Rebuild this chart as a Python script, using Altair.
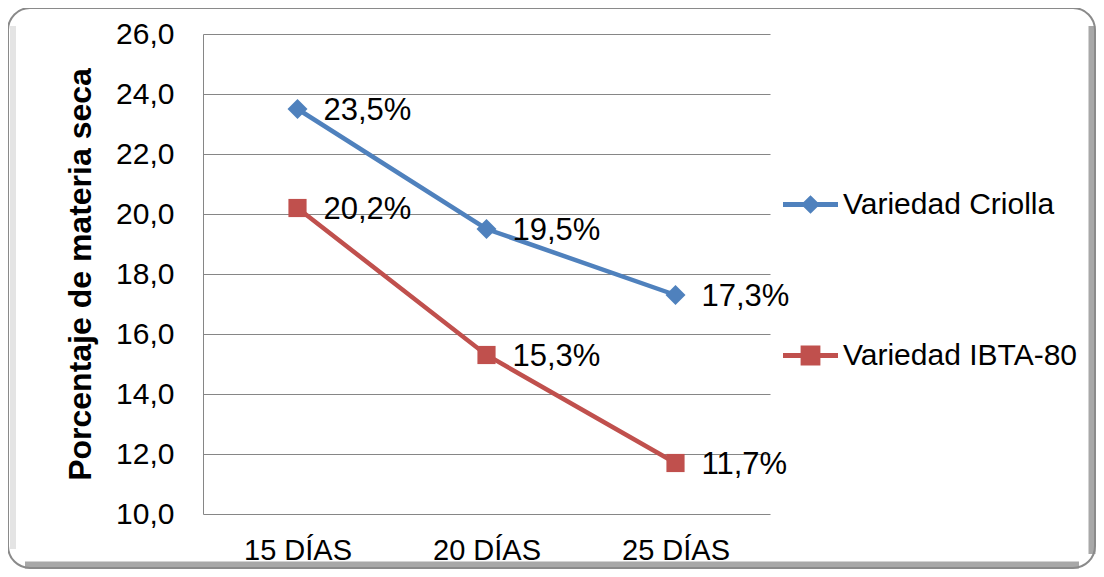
import altair as alt
import pandas as pd

dias = ["15 DÍAS", "20 DÍAS", "25 DÍAS"]
criolla = [23.5, 19.5, 17.3]
ibta = [20.2, 15.3, 11.7]
series = ["Variedad Criolla", "Variedad IBTA-80"]
colors = ["#4F81BD", "#C0504D"]
y_ticks = [10, 12, 14, 16, 18, 20, 22, 24, 26]

rows = []
for s, vals in zip(series, [criolla, ibta]):
    for d, v in zip(dias, vals):
        rows.append({"dia": d, "serie": s, "valor": v,
                     "etiqueta": f"{v:.1f}%".replace(".", ",")})
df = pd.DataFrame(rows)

FONT = "Liberation Sans"

# legend symbols: line with marker through it (unit box -1..1)
path_diamond = ("M-1,-0.09 L-0.25,-0.09 L0,-0.34 L0.25,-0.09 L1,-0.09 L1,0.09 "
                "L0.25,0.09 L0,0.34 L-0.25,0.09 L-1,0.09 Z")
path_square = ("M-1,-0.09 L-0.36,-0.09 L-0.36,-0.36 L0.36,-0.36 L0.36,-0.09 L1,-0.09 L1,0.09 "
               "L0.36,0.09 L0.36,0.36 L-0.36,0.36 L-0.36,0.09 L-1,0.09 Z")

x_enc = alt.X("dia:N", sort=dias, scale=alt.Scale(type="point", padding=0.5),
              axis=alt.Axis(labelAngle=0, ticks=False, domain=False, grid=False,
                            labelPadding=22, labelFontSize=29, labelFont=FONT,
                            labelColor="black", title=None))
y_enc = alt.Y("valor:Q", scale=alt.Scale(domain=[10, 26], nice=False, zero=False),
              axis=alt.Axis(values=y_ticks,
                            labelExpr="replace(format(datum.value, '.1f'), '.', ',')",
                            ticks=False, labelPadding=29, labelFontSize=30,
                            labelFont=FONT, labelColor="black",
                            gridColor="#868686", gridWidth=1,
                            domainColor="#868686", domainWidth=1,
                            title="Porcentaje de materia seca", titleFont=FONT,
                            titleFontSize=32, titleFontWeight="bold",
                            titleColor="black", titlePadding=18))

legend_kwargs = dict(
    orient="none", legendX=580, legendY=143, title=None,
    labelFont=FONT, labelFontSize=30, labelColor="black", labelLimit=0,
    symbolSize=3025, labelOffset=5, rowPadding=108, padding=0,
    direction="vertical", symbolOpacity=1, symbolStrokeWidth=0,
)
color_scale = alt.Scale(domain=series, range=colors)


def color_enc():
    return alt.Color("serie:N", scale=color_scale, legend=alt.Legend(**legend_kwargs))


# decorative rounded frame with soft shadow on the right and bottom
frame_df = pd.DataFrame({"k": [0]})
shade_right = alt.Chart(frame_df).mark_rule(color="#a8a8a8", strokeWidth=7).encode(
    x=alt.value(889), y=alt.value(-8), y2=alt.value(520))
shade_bottom = alt.Chart(frame_df).mark_rule(color="#a8a8a8", strokeWidth=7).encode(
    y=alt.value(531), x=alt.value(-178), x2=alt.value(876))
shade_left = alt.Chart(frame_df).mark_rule(color="#e4e4e4", strokeWidth=6).encode(
    x=alt.value(-190), y=alt.value(-8), y2=alt.value(515))
frame = alt.Chart(frame_df).mark_rect(
    fill="transparent", stroke="#8a8a8a", strokeWidth=2, cornerRadius=22
).encode(x=alt.value(-195), x2=alt.value(892), y=alt.value(-26), y2=alt.value(534))

base = alt.Chart(df)
legend_layer = base.mark_point(filled=True, opacity=0).encode(
    x=x_enc, y=y_enc, color=color_enc(),
    shape=alt.Shape("serie:N", scale=alt.Scale(domain=series, range=[path_diamond, path_square]),
                    legend=alt.Legend(**legend_kwargs)),
)
lines = base.mark_line(strokeWidth=4.5).encode(x=x_enc, y=y_enc, color=color_enc())
pts_c = base.transform_filter(alt.datum.serie == series[0]).mark_point(
    shape="diamond", filled=True, opacity=1, size=400).encode(
    x=x_enc, y=y_enc, color=color_enc())
pts_i = base.transform_filter(alt.datum.serie == series[1]).mark_point(
    shape="square", filled=True, opacity=1, size=330).encode(
    x=x_enc, y=y_enc, color=color_enc())
labels = base.mark_text(align="left", baseline="middle", dx=26, dy=2,
                        fontSize=31, font=FONT, color="black").encode(
    x=x_enc, y=y_enc, text="etiqueta:N")

chart = alt.layer(shade_left, shade_right, shade_bottom, frame, legend_layer,
                  lines, pts_c, pts_i, labels).properties(
    width=567, height=480,
    autosize=alt.AutoSizeParams(type="none"),
    padding={"left": 195, "top": 26, "right": 326, "bottom": 55},
    background="white",
).configure_view(stroke=None)

chart.save("out.html", embed_options={"renderer": "svg", "actions": False})
